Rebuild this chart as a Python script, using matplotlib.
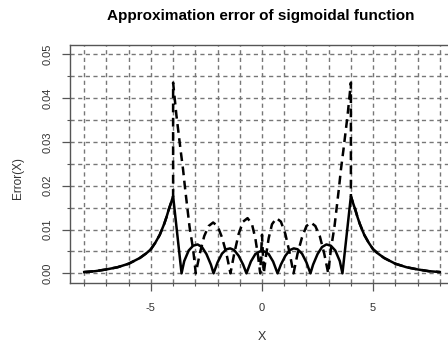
import matplotlib
matplotlib.use("Agg")
import matplotlib.pyplot as plt
from matplotlib.ticker import MultipleLocator, FixedLocator

plt.rcParams['font.family'] = ['Liberation Sans', 'DejaVu Sans']

# Solid curve
x_solid = [-8.0, -7.5, -7.0, -6.5, -6.0, -5.5, -5.2, -5.0, -4.8, -4.6, -4.4, -4.3, -4.2, -4.1, -4.0,
           -3.62, -3.5, -3.3, -3.1, -2.9, -2.7, -2.5, -2.3, -2.18,
           -2.0, -1.8, -1.6, -1.43, -1.25, -1.05, -0.85, -0.7,
           -0.5, -0.3, -0.1, 0.0, 0.1, 0.3, 0.5,
           0.7, 0.85, 1.05, 1.25, 1.43, 1.6, 1.8, 2.0,
           2.18, 2.3, 2.5, 2.7, 2.9, 3.1, 3.3, 3.5, 3.62,
           4.0, 4.1, 4.2, 4.3, 4.4, 4.6, 4.8, 5.0, 5.2, 5.5, 6.0, 6.5, 7.0, 7.5, 8.0]
y_solid = [0.0003, 0.0005, 0.0009, 0.0014, 0.0022, 0.0035, 0.0046, 0.0055, 0.0070, 0.0088, 0.0113, 0.0128, 0.0145, 0.0160, 0.0176,
           0.0, 0.0028, 0.0052, 0.0063, 0.0066, 0.0060, 0.0044, 0.0020, 0.0,
           0.0025, 0.0045, 0.0055, 0.0057, 0.0053, 0.0040, 0.0020, 0.0,
           0.0027, 0.0044, 0.0050, 0.0050, 0.0050, 0.0044, 0.0027,
           0.0, 0.0020, 0.0040, 0.0053, 0.0057, 0.0055, 0.0045, 0.0025,
           0.0, 0.0020, 0.0044, 0.0060, 0.0066, 0.0063, 0.0052, 0.0028, 0.0,
           0.0176, 0.0160, 0.0145, 0.0128, 0.0113, 0.0088, 0.0070, 0.0055, 0.0046, 0.0035, 0.0022, 0.0014, 0.0009, 0.0005, 0.0003]

# Dashed curve
x_dash = [-8.0, -7.5, -7.0, -6.5, -6.0, -5.5, -5.2, -5.0, -4.8, -4.6, -4.4, -4.3, -4.2, -4.1, -4.0, -4.0,
          -3.85, -3.66, -3.55, -3.47, -3.4, -3.26, -3.1, -2.98,
          -2.8, -2.6, -2.4, -2.2, -2.0, -1.8, -1.6, -1.42,
          -1.25, -1.05, -0.85, -0.65, -0.45, -0.3, -0.18, -0.08,
          0.0, 0.08, 0.18, 0.3, 0.45, 0.65, 0.85, 1.05, 1.25,
          1.42, 1.6, 1.8, 2.0, 2.2, 2.4, 2.6, 2.8,
          2.98, 3.1, 3.26, 3.4, 3.47, 3.55, 3.66, 3.85, 4.0, 4.0,
          4.1, 4.2, 4.3, 4.4, 4.6, 4.8, 5.0, 5.2, 5.5, 6.0, 6.5, 7.0, 7.5, 8.0]
y_dash = [0.0003, 0.0005, 0.0009, 0.0014, 0.0022, 0.0035, 0.0046, 0.0055, 0.0070, 0.0088, 0.0113, 0.0128, 0.0145, 0.0160, 0.0176, 0.0435,
          0.0360, 0.0280, 0.0236, 0.0198, 0.0167, 0.0106, 0.0055, 0.0,
          0.0045, 0.0085, 0.0108, 0.0116, 0.0108, 0.0082, 0.0045, 0.0,
          0.0045, 0.0090, 0.0118, 0.0126, 0.0112, 0.0080, 0.0040, 0.0,
          0.0088, 0.0, 0.0040, 0.0080, 0.0112, 0.0126, 0.0118, 0.0090, 0.0045,
          0.0, 0.0045, 0.0082, 0.0108, 0.0116, 0.0108, 0.0085, 0.0045,
          0.0, 0.0055, 0.0106, 0.0167, 0.0198, 0.0236, 0.0280, 0.0360, 0.0435, 0.0176,
          0.0160, 0.0145, 0.0128, 0.0113, 0.0088, 0.0070, 0.0055, 0.0046, 0.0035, 0.0022, 0.0014, 0.0009, 0.0005, 0.0003]

x_major = [-5, 0, 5]
x_labels = ['-5', '0', '5']
y_major = [0.00, 0.01, 0.02, 0.03, 0.04, 0.05]
y_labels = ['0.00', '0.01', '0.02', '0.03', '0.04', '0.05']

fig = plt.figure(figsize=(4.48, 3.47), dpi=100)
ax = fig.add_axes([70/448, 1-283/347, 384/448, 238/347])

# grid
for gx in range(-8, 9):
    ax.axvline(gx, color='#777777', lw=1.0, dashes=(3, 2.5), zorder=1)
for i in range(11):
    ax.axhline(i*0.005, color='#777777', lw=1.0, dashes=(3, 2.5), zorder=1)

ax.plot(x_solid, y_solid, color='black', lw=1.8, zorder=3, solid_joinstyle='round')
ax.plot(x_dash, y_dash, color='black', lw=1.8, dashes=(3.5, 2.2), zorder=3)

ax.set_xlim(-8.64, 8.64)
ax.set_ylim(-0.0022, 0.0521)

ax.xaxis.set_major_locator(FixedLocator(x_major))
ax.set_xticklabels(x_labels)
ax.xaxis.set_minor_locator(MultipleLocator(1))
ax.yaxis.set_major_locator(FixedLocator(y_major))
ax.set_yticklabels(y_labels, rotation=90, va='center')
ax.yaxis.set_minor_locator(MultipleLocator(0.005))

ax.tick_params(which='major', length=5.5, width=0.9, color='#555555',
               labelsize=8, labelcolor='#333333', pad=7)
ax.tick_params(axis='x', which='major', pad=9)
ax.tick_params(which='minor', length=2.5, width=0.8, color='#555555')

for s in ax.spines.values():
    s.set_color('#555555')
    s.set_linewidth(1.0)

ax.set_xlabel('X', fontsize=9, color='#333333', labelpad=13)
ax.set_ylabel('Error(X)', fontsize=8.5, color='#333333')
ax.yaxis.set_label_coords(-0.12, 0.44)
fig.text(261/448, 1-16/347, 'Approximation error of sigmoidal function',
         ha='center', va='center', fontsize=11, fontweight='bold')

fig.savefig('out.png', dpi=100)
